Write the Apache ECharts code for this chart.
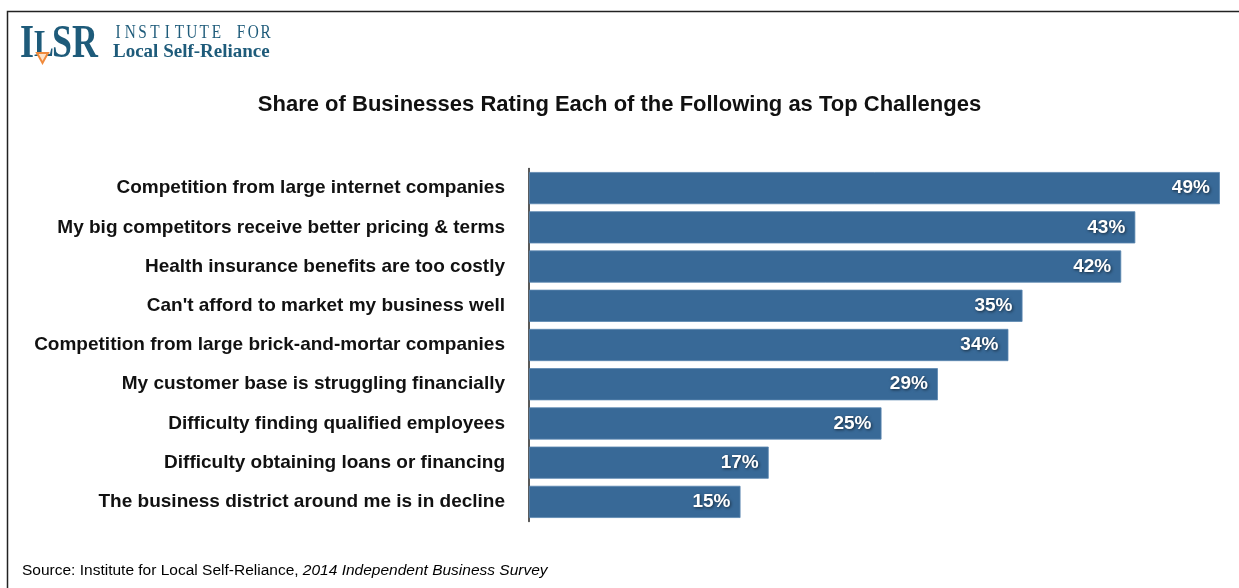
<!DOCTYPE html>
<html>
<head>
<meta charset="utf-8">
<script src="https://cdn.jsdelivr.net/npm/echarts@6/dist/echarts.min.js"></script>
<style>
  html, body { margin: 0; padding: 0; background: #fff; }
  #chart { width: 1239px; height: 588px; }
</style>
</head>
<body>
<div id="chart"></div>
<script>
// Survey results: share of businesses naming each item a top challenge (%)
const challenges = [
  "Competition from large internet companies",
  "My big competitors receive better pricing & terms",
  "Health insurance benefits are too costly",
  "Can't afford to market my business well",
  "Competition from large brick-and-mortar companies",
  "My customer base is struggling financially",
  "Difficulty finding qualified employees",
  "Difficulty obtaining loans or financing",
  "The business district around me is in decline"
];
const shares = [49, 43, 42, 35, 34, 29, 25, 17, 15];

const titleText = "Share of Businesses Rating Each of the Following as Top Challenges";
const sourceLead = "Source: Institute for Local Self-Reliance, ";
const sourceWork = "2014 Independent Business Survey";
const orgLine1 = "INSTITUTE FOR";
const orgLine2 = "Local Self-Reliance";

const SANS = "'Liberation Sans', Arial, Helvetica, sans-serif";
const SERIF = "'Liberation Serif', 'DejaVu Serif', serif";
const TEAL = "#1e5b7a";
const ORANGE = "#f08a3c";

const chart = echarts.init(document.getElementById('chart'), null, { renderer: 'canvas' });

// letter-spaced caption: one centred text node per character on a fixed pitch
const spacedLetters = [];
(function () {
  const first = 118;
  const step = 12.3;
  Array.from(orgLine1).forEach((ch, i) => {
    if (ch === ' ') return;
    spacedLetters.push({
      type: 'text', x: first + i * step, y: 24, scaleX: 0.85,
      style: { text: ch, font: `18px ${SERIF}`, fill: TEAL, textAlign: 'center', textVerticalAlign: 'top' }
    });
  });
})();

// logo wordmark, narrowed bold serif letters
const logoMark = [
  { ch: 'I', x: 20, top: 22, size: 46 },
  { ch: 'L', x: 34, top: 27, size: 38 },
  { ch: 'S', x: 52, top: 22, size: 46 },
  { ch: 'R', x: 72, top: 22, size: 46 }
].map(d => ({
  type: 'text', left: d.x, top: d.top, scaleX: 0.78,
  style: { text: d.ch, font: `bold ${d.size}px ${SERIF}`, fill: TEAL }
}));

chart.setOption({
  animation: false,
  backgroundColor: '#fff',
  title: {
    text: titleText,
    left: 'center',
    top: 89,
    textStyle: { fontFamily: SANS, fontSize: 22, fontWeight: 'bold', color: '#111' }
  },
  grid: { left: 529, right: 5, top: 168.5, bottom: 66.5, containLabel: false },
  xAxis: {
    type: 'value', min: 0, max: 50,
    show: false
  },
  yAxis: {
    type: 'category',
    data: challenges,
    inverse: true,
    axisLine: { show: true, lineStyle: { color: '#222', width: 1.5 } },
    axisTick: { show: false },
    splitLine: { show: false },
    axisLabel: {
      margin: 24,
      fontFamily: SANS, fontSize: 19, fontWeight: 'bold', color: '#111'
    }
  },
  series: [{
    type: 'bar',
    data: shares,
    barCategoryGap: '18%',
    itemStyle: { color: '#386997', borderColor: '#5b86b0', borderWidth: 0.8 },
    label: {
      show: true,
      position: 'insideRight',
      distance: 10,
      formatter: '{c}%',
      fontFamily: SANS, fontSize: 19, fontWeight: 'bold', color: '#fff',
      textShadowColor: 'rgba(0,0,0,0.6)', textShadowBlur: 3, textShadowOffsetX: 1, textShadowOffsetY: 1
    }
  }],
  graphic: [
    // frame
    {
      type: 'rect', silent: true,
      shape: { x: 7.5, y: 11.5, width: 1300, height: 700 },
      style: { fill: 'none', stroke: '#222', lineWidth: 1.5 }
    },
    ...logoMark,
    {
      type: 'polygon',
      shape: { points: [[37, 53], [48, 53], [42.5, 63]] },
      style: { fill: '#fde2c8', stroke: ORANGE, lineWidth: 2 }
    },
    ...spacedLetters,
    { type: 'text', left: 113, top: 43, style: { text: orgLine2, font: `bold 19px ${SERIF}`, fill: TEAL } },
    // source line
    {
      type: 'text', left: 22, top: 563,
      style: {
        text: `{a|${sourceLead}}{b|${sourceWork}}`,
        rich: {
          a: { fontFamily: SANS, fontSize: 15.5, color: '#111' },
          b: { fontFamily: SANS, fontSize: 15.5, fontStyle: 'italic', color: '#111' }
        }
      }
    }
  ]
});
</script>
</body>
</html>
